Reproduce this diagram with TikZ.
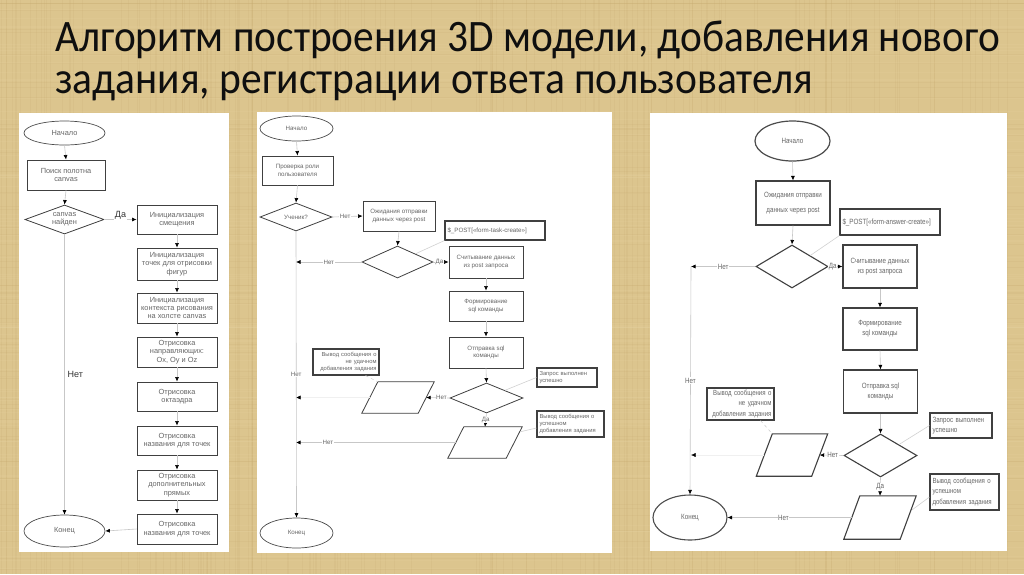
\documentclass[tikz,border=0pt]{standalone}
\usepackage{fontspec}
\usepackage{graphicx}
\setmainfont{Liberation Sans}
\newfontfamily\titlef{Carlito}
\newfontfamily\arialf{Liberation Sans}
\newfontfamily\narrowf[FakeStretch=0.82]{Liberation Sans}
\usetikzlibrary{shapes.geometric,arrows.meta,calc}
\definecolor{bgtan}{RGB}{220,197,142}
\definecolor{bgdark}{RGB}{196,168,108}
\definecolor{bglight}{RGB}{236,218,170}
\definecolor{titlecol}{RGB}{15,15,15}
\newcommand{\drawio}[2]{\draw[iodraw] ($(#1.south west)+(-#2,0pt)$) -- ($(#1.north west)+(#2,0pt)$) -- ($(#1.north east)+(#2,0pt)$) -- ($(#1.south east)+(-#2,0pt)$) -- cycle;}
\tikzset{
  term/.style={ellipse, draw=black!70, line width=0.7pt, inner sep=0pt, fill=white},
  proc/.style={rectangle, draw=black!75, line width=0.9pt, inner sep=1pt, align=center, fill=white},
  dec/.style={diamond, draw=black!75, line width=0.8pt, inner sep=0pt, align=center, shape aspect=2.6, fill=white},
  note/.style={rectangle, draw=black!75, line width=1.1pt, inner sep=1.5pt, fill=white},
  io/.style={rectangle, draw=none, inner sep=0pt},
  iodraw/.style={draw=black!75, line width=0.8pt},
  flow/.style={draw=black!22, line width=0.6pt, -{Latex[black,length=4.5pt,width=4pt]}},
  flowfaint/.style={draw=black!6, line width=0.5pt, -{Latex[black,length=4.5pt,width=4pt]}},
  link/.style={draw=black!18, line width=0.6pt},
  f1/.style={font=\arialf\fontsize{7.4}{8.3}\selectfont, text=black!60},
  f2/.style={font=\arialf\fontsize{6.2}{7.6}\selectfont, text=black!60},
  f3/.style={font=\narrowf\fontsize{7.6}{10}\selectfont, text=black!60},
  lblL/.style={font=\arialf\fontsize{9}{10}\selectfont, text=black!80, fill=white, inner sep=0.8pt},
  lblM/.style={f2, fill=white, inner sep=0.6pt},
  lblR/.style={f3, fill=white, inner sep=0.6pt},
  lbox/.style={proc, f1, minimum width=80pt},
  mbox/.style={proc, f2, minimum width=74pt},
  rbox/.style={proc, f3, minimum width=74pt, line width=1.2pt},
  fiber/.style={line width=0.5pt, opacity=0.14},
}
\begin{document}
\begin{tikzpicture}[x=1pt,y=-1pt]
\fill[bgtan] (0,0) rectangle (1024,574);
\useasboundingbox (0,0) rectangle (1024,574);
% background texture
\pgfmathsetseed{11}
\foreach \i in {1,...,160}{
  \pgfmathsetmacro\xx{rnd*1024}
  \draw[fiber, bgdark] (\xx,0) -- (\xx,574);
}
\foreach \i in {1,...,90}{
  \pgfmathsetmacro\yy{rnd*574}
  \draw[fiber, bglight] (0,\yy) -- (1024,\yy);
}
\foreach \i in {1,...,60}{
  \pgfmathsetmacro\yy{rnd*574}
  \draw[fiber, bgdark] (0,\yy) -- (1024,\yy);
}

% title
\node[anchor=base west, inner sep=0pt, text=titlecol] (t1) at (55,51)
  {\resizebox{945pt}{\height}{\titlef\fontsize{45}{45}\selectfont Алгоритм построения 3D модели, добавления нового}};
\node[anchor=base west, inner sep=0pt, text=titlecol] (t2) at (55,93)
  {\resizebox{758pt}{\height}{\titlef\fontsize{45}{45}\selectfont задания, регистрации ответа пользователя}};

% panels
\fill[white] (19,113) rectangle (229,552);
\fill[white] (257,112) rectangle (612,553);
\fill[white] (650,113) rectangle (1007,551);

% ---------- left panel ----------
\node[term,f1,minimum width=81pt,minimum height=24pt] (s1) at (64.5,133) {Начало};
\node[proc,f1,minimum width=78pt,minimum height=30pt] (b1) at (66,175) {Поиск полотна\\canvas};
\node[dec,f1,minimum width=79pt,minimum height=29pt] (d1) at (64.5,219.5) {canvas\\найден};
\node[lbox,minimum height=29pt] (b2) at (177,219.5) {Инициализация\\смещения};
\node[lbox,minimum height=32pt] (b3) at (177,264) {Инициализация\\точек для отрисовки\\фигур};
\node[lbox,minimum height=30pt] (b4) at (177,308) {Инициализация\\контекста рисования\\на холсте canvas};
\node[lbox,minimum height=30pt] (b5) at (177,352) {Отрисовка\\направляющих:\\Ox, Oy и Oz};
\node[lbox,minimum height=29pt] (b6) at (177,396.5) {Отрисовка\\октаэдра};
\node[lbox,minimum height=29pt] (b7) at (177,440.5) {Отрисовка\\названия для точек};
\node[lbox,minimum height=30pt] (b8) at (177,485) {Отрисовка\\дополнительных\\прямых};
\node[lbox,minimum height=30pt] (b9) at (177,529) {Отрисовка\\названия для точек};
\node[term,f1,minimum width=81pt,minimum height=32pt] (e1) at (64.5,531) {Конец};

\draw[flow] (s1.south) -- (b1.north);
\draw[flow] (b1.south) -- (d1.north);
\draw[flow] (d1.east) -- (b2.west) node[lblL,pos=0.5,yshift=4pt] {Да};
\draw[flow] (b2.south) -- (b3.north);
\draw[flow] (b3.south) -- (b4.north);
\draw[flow] (b4.south) -- (b5.north);
\draw[flow] (b5.south) -- (b6.north);
\draw[flow] (b6.south) -- (b7.north);
\draw[flow] (b7.south) -- (b8.north);
\draw[flow] (b8.south) -- (b9.north);
\draw[flow] (b9.west) -- (e1.east);
\draw[flow] (d1.south) -- (e1.north) node[lblL,pos=0.5,anchor=west,xshift=2pt] {Нет};

% ---------- middle panel ----------
\node[term,f2,minimum width=73pt,minimum height=25pt] (s2) at (296.5,128.5) {Начало};
\node[proc,f2,minimum width=71pt,minimum height=29pt] (c1) at (297.5,170.5) {Проверка роли\\пользователя};
\node[dec,f2,minimum width=72pt,minimum height=28pt] (d2) at (296,217) {Ученик?};
\node[proc,f2,minimum width=72pt,minimum height=30pt] (c2) at (399,216) {Ожидания отправки\\данных через post};
\node[dec,minimum width=71pt,minimum height=32pt] (d3) at (397.5,262) {};
\node[note,f2,minimum width=100pt,minimum height=19pt,text width=95pt,align=left] (n1) at (495,230.5) {\$\_POST[«form-task-create»]};
\node[mbox,minimum height=32pt] (c3) at (486,262) {Считывание данных\\из post запроса};
\node[mbox,minimum height=30pt] (c4) at (486,306) {Формирование\\sql команды};
\node[mbox,minimum height=31pt] (c5) at (486,352.5) {Отправка sql\\команды};
\node[dec,minimum width=73pt,minimum height=30pt] (d4) at (486.5,398) {};
\node[note,f2,minimum width=60pt,minimum height=19pt,text width=55pt,align=left,font=\arialf\fontsize{5.8}{7}\selectfont] (n2) at (567,377.5) {Запрос выполнен\\успешно};
\node[io,minimum width=56pt,minimum height=31pt] (p1) at (398,397.5) {};
\node[note,f2,minimum width=66pt,minimum height=26pt,text width=61pt,align=right,font=\arialf\fontsize{5.8}{7}\selectfont] (n3) at (346,362) {Вывод сообщения о\\не удачном\\добавления задания};
\node[io,minimum width=58pt,minimum height=31pt] (p2) at (485,442.5) {};
\node[note,f2,minimum width=67pt,minimum height=26pt,text width=62pt,align=left,font=\arialf\fontsize{5.8}{7}\selectfont] (n4) at (570.5,424) {Вывод сообщения о\\успешном\\добавления задания};
\node[term,f2,minimum width=73pt,minimum height=30pt] (e2) at (296.5,533) {Конец};
\drawio{p1}{8pt}
\drawio{p2}{8pt}

\coordinate (v2a) at (d2.south |- d3.west);
\coordinate (v2b) at (d2.south |- p1.west);
\coordinate (v2c) at (d2.south |- p2.west);

\draw[flow] (s2.south) -- (c1.north);
\draw[flow] (c1.south) -- (d2.north);
\draw[flow] (d2.east) -- (c2.west) node[lblM,pos=0.42] {Нет};
\draw[flow] (c2.south) -- (d3.north);
\draw[flow] (d3.east) -- (c3.west) node[lblM,pos=0.4] {Да};
\draw[flow] (d3.west) -- (v2a) node[lblM,pos=0.5] {Нет};
\draw[link] (d3.north east) -- (n1.south west);
\draw[flow] (c3.south) -- (c4.north);
\draw[flow] (c4.south) -- (c5.north);
\draw[flow] (c5.south) -- (d4.north);
\draw[flow] (d4.west) -- (p1.east) node[lblM,pos=0.35] {Нет};
\draw[link] (d4.north east) -- (n2.west);
\draw[link,dashed] ($(n3.south east)+(-14pt,0pt)$) -- ($(p1.north west)+(8pt,0pt)$);
\draw[flowfaint] (p1.west) -- (v2b);
\draw[flow] (d4.south) -- (p2.north) node[lblM,pos=0.5] {Да};
\draw[link] ($(p2.north east)+(6pt,-5pt)$) -- ($(n4.west)+(0pt,-4pt)$);
\draw[flow] (p2.west) -- (v2c) node[lblM,pos=0.8] {Нет};
\draw[flow] (d2.south) -- (e2.north) node[lblM,pos=0.5] {Нет};

% ---------- right panel ----------
\node[term,f3,minimum width=75pt,minimum height=40pt,line width=1.2pt] (s3) at (792.5,141) {Начало};
\node[rbox,minimum height=44pt,font=\narrowf\fontsize{7.6}{15}\selectfont] (r1) at (793,203) {Ожидания отправки\\данных через post};
\node[note,f3,minimum width=100pt,minimum height=26pt,text width=95pt,align=left] (n5) at (890,222) {\$\_POST[«form-answer-create»]};
\node[dec,minimum width=72pt,minimum height=43pt,line width=1.1pt] (d5) at (792,266.5) {};
\node[rbox,minimum height=43pt] (r2) at (880,266.5) {Считывание данных\\из post запроса};
\node[rbox,minimum height=42pt] (r3) at (880,329) {Формирование\\sql команды};
\node[rbox,minimum height=43pt] (r4) at (880.5,391.5) {Отправка sql\\команды};
\node[dec,minimum width=73pt,minimum height=43pt,line width=1.1pt] (d6) at (880.5,455.5) {};
\node[note,f3,minimum width=62pt,minimum height=25pt,text width=57pt,align=left] (n6) at (961,425.5) {Запрос выполнен\\успешно};
\node[io,minimum width=55pt,minimum height=42pt] (p3) at (792,455) {};
\node[note,f3,minimum width=67pt,minimum height=32pt,text width=62pt,align=right,font=\narrowf\fontsize{7.4}{10.5}\selectfont] (n7) at (740.5,404) {Вывод сообщения о\\не удачном\\добавления задания};
\node[io,minimum width=56pt,minimum height=43pt] (p4) at (880,517.5) {};
\node[note,f3,minimum width=69pt,minimum height=36pt,text width=64pt,align=left,font=\narrowf\fontsize{7.4}{10.5}\selectfont] (n8) at (964.5,492) {Вывод сообщения о\\успешном\\добавления задания};
\node[term,f3,minimum width=74pt,minimum height=45pt,line width=1.1pt] (e3) at (690,517.5) {Конец};
\begin{scope}[iodraw/.append style={line width=1.1pt}]
\drawio{p3}{8pt}
\drawio{p4}{8pt}
\end{scope}

\coordinate (v3a) at (691,266.5);
\coordinate (v3b) at (v3a |- p3.west);

\draw[flow] (s3.south) -- (r1.north);
\draw[flow] (r1.south) -- (d5.north);
\draw[flow] (d5.east) -- (r2.west) node[lblR,pos=0.3] {Да};
\draw[flow] (d5.west) -- (v3a) node[lblR,pos=0.5] {Нет};
\draw[link] (d5.north east) -- (n5.south west);
\draw[flow] (r2.south) -- (r3.north);
\draw[flow] (r3.south) -- (r4.north);
\draw[flow] (r4.south) -- (d6.north);
\draw[flow] (d6.west) -- (p3.east) node[lblR,pos=0.45] {Нет};
\draw[link] (d6.north east) -- (n6.west);
\draw[link,dashed] ($(n7.south east)+(-14pt,0pt)$) -- ($(p3.north west)+(8pt,0pt)$);
\draw[flowfaint] (p3.west) -- (v3b);
\draw[flow] (d6.south) -- (p4.north) node[lblR,pos=0.5] {Да};
\draw[link] ($(p4.north east)+(4pt,-14pt)$) -- ($(n8.west)+(0pt,-5pt)$);
\draw[flow] (p4.west) -- (e3.east) node[lblR,pos=0.55] {Нет};
\draw[flow] (v3a) -- (e3.north) node[lblR,pos=0.5] {Нет};
\end{tikzpicture}
\end{document}
